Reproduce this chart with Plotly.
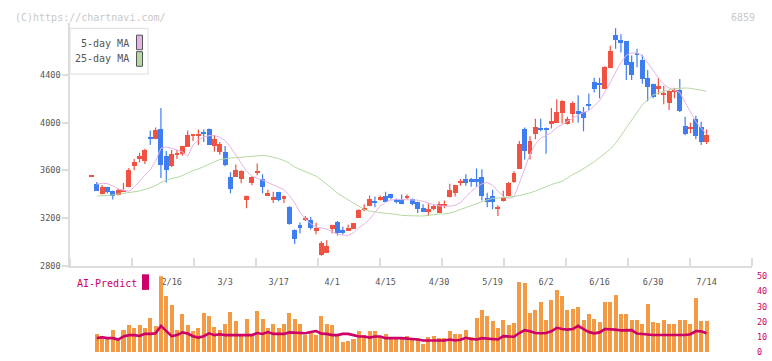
import plotly.graph_objects as go
import numpy as np

# ---------------- data ----------------
date_labels = ["2/16", "3/3", "3/17", "4/1", "4/15", "4/30", "5/19", "6/2", "6/16", "6/30", "7/14"]
date_label_idx = [15, 25, 35, 45, 55, 65, 75, 85, 95, 105, 115]

open_ = [3556, 3491, 3407, 3461, 3429, 3396, 3423, 3464, 3641, 3698,
         3682, 3878, 3869, 3951, 3722, 3641, 3733, 3739, 3799, 3897,
         3888, 3927, 3951, 3804, 3755, 3755, 3551, 3551, 3535, 3358,
         3494, 3586, 3535, 3396, 3358, 3420, 3363, 3298, 3102, 3146,
         3192, 3184, 3097, 2890, 2914, 3110, 3167, 3102, 3094, 3110,
         3200, 3278, 3306, 3347, 3355, 3388, 3404, 3363, 3363, 3371,
         3363, 3339, 3290, 3257, 3282, 3249, 3314, 3380, 3412, 3506,
         3535, 3527, 3527, 3551, 3371, 3388, 3282, 3355, 3388, 3510,
         3616, 3951, 3739, 3910, 3959, 3959, 3992, 4000, 4082, 3992,
         4073, 4098, 4090, 4163, 4343, 4335, 4286, 4465, 4743, 4702,
         4686, 4514, 4588, 4531, 4376, 4327, 4286, 4245, 4171, 4269,
         4278, 3976, 3959, 4033, 3967, 3845]
high = [3556, 3502, 3477, 3461, 3429, 3448, 3494, 3619, 3695, 3747,
        3780, 3935, 3959, 4122, 3763, 3771, 3771, 3804, 3935, 3902,
        3943, 3943, 3951, 3897, 3837, 3804, 3584, 3649, 3600, 3388,
        3551, 3657, 3567, 3437, 3420, 3420, 3388, 3298, 3102, 3162,
        3216, 3208, 3159, 3004, 3012, 3143, 3175, 3127, 3143, 3159,
        3273, 3314, 3388, 3380, 3388, 3420, 3404, 3363, 3396, 3396,
        3363, 3339, 3314, 3322, 3314, 3339, 3347, 3486, 3478, 3527,
        3567, 3535, 3616, 3608, 3412, 3437, 3306, 3429, 3502, 3592,
        3845, 3959, 3886, 4033, 4033, 3959, 4122, 4196, 4188, 4049,
        4180, 4229, 4131, 4245, 4376, 4376, 4473, 4645, 4792, 4743,
        4686, 4563, 4620, 4571, 4441, 4327, 4376, 4310, 4269, 4294,
        4367, 4049, 4000, 4057, 4008, 3943]
low = [3556, 3431, 3396, 3407, 3355, 3388, 3423, 3458, 3600, 3668,
       3652, 3812, 3864, 3535, 3497, 3627, 3695, 3722, 3799, 3845,
       3812, 3837, 3812, 3755, 3731, 3633, 3407, 3551, 3491, 3282,
       3475, 3559, 3407, 3388, 3325, 3341, 3325, 3143, 2982, 3069,
       3175, 3102, 3064, 2882, 2914, 3069, 3053, 3061, 3094, 3110,
       3200, 3257, 3306, 3290, 3347, 3339, 3355, 3322, 3314, 3355,
       3306, 3241, 3257, 3216, 3265, 3249, 3282, 3371, 3380, 3470,
       3470, 3461, 3461, 3347, 3290, 3273, 3216, 3339, 3380, 3494,
       3616, 3690, 3690, 3861, 3927, 3739, 3951, 4000, 3992, 3984,
       4000, 4000, 3927, 4106, 4253, 4204, 4286, 4457, 4620, 4588,
       4359, 4359, 4465, 4327, 4180, 4204, 4237, 4155, 4106, 4204,
       4090, 3894, 3910, 3861, 3812, 3820]
close = [3556, 3431, 3461, 3423, 3388, 3437, 3437, 3608, 3676, 3722,
         3771, 3872, 3940, 3649, 3608, 3739, 3750, 3804, 3902, 3902,
         3913, 3913, 3820, 3869, 3829, 3649, 3445, 3608, 3600, 3388,
         3551, 3592, 3461, 3412, 3380, 3358, 3388, 3151, 3029, 3118,
         3197, 3118, 3118, 2996, 2971, 3143, 3078, 3086, 3118, 3159,
         3273, 3282, 3363, 3331, 3380, 3339, 3371, 3339, 3322, 3388,
         3322, 3282, 3257, 3282, 3306, 3322, 3318, 3437, 3478, 3510,
         3494, 3502, 3502, 3388, 3339, 3339, 3298, 3368, 3494, 3584,
         3829, 3763, 3853, 3967, 3943, 3943, 4016, 4090, 4188, 4033,
         4171, 4082, 4041, 4147, 4286, 4327, 4473, 4604, 4694, 4669,
         4490, 4408, 4580, 4367, 4302, 4220, 4310, 4253, 4269, 4278,
         4106, 3910, 3967, 3894, 3845, 3902]

ma5 = [None, 3483, 3491, 3488, 3469, 3442, 3431, 3423, 3458, 3513,
       3559, 3605, 3676, 3785, 3796, 3785, 3769, 3755, 3717, 3812,
       3856, 3878, 3891, 3891, 3878, 3850, 3796, 3722, 3660, 3595,
       3551, 3532, 3518, 3497, 3478, 3458, 3437, 3388, 3328, 3246,
       3192, 3151, 3124, 3116, 3108, 3083, 3064, 3056, 3053, 3075,
       3118, 3148, 3189, 3246, 3298, 3331, 3350, 3355, 3355, 3355,
       3355, 3350, 3339, 3323, 3312, 3301, 3298, 3298, 3306, 3328,
       3377, 3423, 3458, 3486, 3497, 3475, 3425, 3380, 3363, 3377,
       3491, 3622, 3736, 3818, 3872, 3891, 3918, 3959, 3986, 4014,
       4041, 4063, 4087, 4101, 4139, 4185, 4258, 4335, 4425, 4503,
       4566, 4585, 4585, 4563, 4503, 4435, 4376, 4321, 4291, 4272,
       4253, 4171, 4095, 4008, 3954, 3905]
ma25 = [None, 3385, 3385, 3388, 3393, 3399, 3404, 3410, 3415, 3426,
        3439, 3453, 3472, 3497, 3518, 3532, 3540, 3556, 3578, 3597,
        3611, 3633, 3654, 3671, 3690, 3698, 3703, 3706, 3709, 3712,
        3714, 3720, 3725, 3720, 3712, 3698, 3682, 3660, 3627, 3608,
        3595, 3573, 3551, 3518, 3486, 3448, 3407, 3380, 3358, 3328,
        3301, 3271, 3257, 3249, 3244, 3238, 3235, 3227, 3222, 3219,
        3216, 3216, 3216, 3222, 3230, 3233, 3235, 3241, 3254, 3271,
        3290, 3303, 3320, 3336, 3352, 3363, 3366, 3369, 3372, 3380,
        3388, 3396, 3410, 3426, 3445, 3467, 3480, 3494, 3508, 3535,
        3565, 3586, 3614, 3649, 3671, 3706, 3742, 3777, 3826, 3891,
        3959, 4030, 4095, 4150, 4193, 4231, 4248, 4264, 4275, 4286,
        4291, 4291, 4288, 4280, 4272, 4264]

volume = [None, 11.5, 10.3, 8.3, 14.7, 8.3, 14.7, 17.9, 16.0, 17.9,
          16.0, 22.4, 17.3, 50.0, 36.5, 30.8, 14.7, 25.0, 17.9, 13.5,
          16.0, 25.6, 23.7, 16.7, 14.1, 18.6, 26.3, 20.5, 11.5, 21.8,
          10.3, 26.9, 21.8, 16.0, 18.6, 16.0, 18.6, 25.6, 21.8, 18.6,
          10.9, 13.5, 11.1, 23.7, 18.6, 17.9, 11.5, 6.4, 7.1, 8.3,
          13.5, 11.1, 13.5, 13.5, 10.3, 11.5, 8.3, 8.3, 8.3, 10.3,
          8.3, 9.0, 5.1, 9.6, 10.3, 9.0, 9.0, 13.5, 11.5, 11.5,
          14.1, 9.6, 22.4, 27.6, 23.7, 20.5, 16.0, 21.2, 17.9, 19.2,
          46.2, 45.5, 25.6, 27.6, 32.7, 21.2, 34.0, 41.0, 36.5, 27.6,
          28.2, 29.5, 21.2, 25.0, 21.8, 19.9, 32.7, 32.7, 37.2, 25.0,
          25.0, 21.2, 21.2, 18.6, 31.4, 19.9, 19.2, 21.2, 18.6, 18.6,
          21.2, 21.2, 18.6, 35.3, 20.5, 20.5]
ai_predict = [None, 9.2, 9.8, 9.2, 9.2, 8.3, 10.3, 11.2, 11.2, 10.6,
              12.0, 12.0, 12.4, 17.3, 13.9, 10.5, 11.2, 13.0, 12.2, 10.5,
              9.6, 10.5, 12.4, 11.2, 11.8, 11.2, 11.2, 11.2, 11.2, 11.2,
              11.2, 12.6, 12.0, 13.2, 12.0, 12.0, 12.0, 13.0, 12.8, 12.8,
              12.4, 13.2, 13.9, 12.2, 12.0, 11.2, 11.2, 12.0, 12.0, 11.2,
              10.3, 10.3, 9.6, 10.3, 10.3, 9.2, 9.0, 9.2, 9.2, 9.0,
              8.3, 8.3, 7.7, 7.7, 7.9, 7.7, 7.7, 8.3, 7.7, 8.1,
              9.4, 8.6, 8.3, 9.2, 9.0, 8.3, 8.3, 10.5, 10.5, 10.1,
              12.6, 14.5, 13.7, 12.6, 12.4, 12.6, 13.7, 16.0, 15.2, 14.8,
              15.2, 17.3, 15.2, 13.2, 12.4, 13.0, 15.2, 15.2, 14.8, 14.3,
              14.5, 14.5, 12.2, 11.8, 11.5, 11.3, 11.3, 11.3, 11.3, 11.3,
              11.3, 11.3, 11.8, 13.9, 13.7, 12.4]

price_ticks = [2800, 3200, 3600, 4000, 4400]
ai_ticks = [0, 10, 20, 30, 40, 50]

# ---------------- styling ----------------
W, H = 772, 361
FONT = "DejaVu Sans Mono"
RED = "#f05342"
BLUE = "#3e7ef0"
PINK = "#e6b2e6"
GREEN = "#b3d9a3"
ORANGE = "#f39a45"
MAGENTA = "#cc0066"
AXIS = "#dddddd"
TXT = "#555555"

def px(x):
    return x / W

def py(y):
    return 1 - y / H

n = len(close)
idx = list(range(n))
XR = [-4.0, 123.5]

up = [c >= o for o, c in zip(open_, close)]
MIN_BODY = 14
body_base, body_h = [], []
for o, c in zip(open_, close):
    lo, hi = min(o, c), max(o, c)
    d = hi - lo
    if d < MIN_BODY:
        lo -= (MIN_BODY - d) / 2
        d = MIN_BODY
    body_base.append(lo)
    body_h.append(d)

fig = go.Figure()

# wicks
for flag, col in [(True, RED), (False, BLUE)]:
    wx, wy = [], []
    for i in idx:
        if up[i] == flag:
            wx += [i, i, None]
            wy += [low[i], high[i], None]
    fig.add_trace(go.Scatter(x=wx, y=wy, mode="lines", line=dict(color=col, width=1.2),
                             hoverinfo="skip", showlegend=False, xaxis="x", yaxis="y"))

# bodies
fig.add_trace(go.Bar(x=idx, y=body_h, base=body_base, width=0.92,
                     marker=dict(color=[RED if u else BLUE for u in up], line=dict(width=0)),
                     showlegend=False, xaxis="x", yaxis="y"))

# moving averages
fig.add_trace(go.Scatter(x=idx, y=ma5, mode="lines", line=dict(color=PINK, width=1),
                         showlegend=False, xaxis="x", yaxis="y"))
fig.add_trace(go.Scatter(x=idx, y=ma25, mode="lines", line=dict(color=GREEN, width=1),
                         showlegend=False, xaxis="x", yaxis="y"))

# lower panel
fig.add_trace(go.Bar(x=idx, y=volume, width=0.75, marker=dict(color=ORANGE, line=dict(width=0)),
                     showlegend=False, xaxis="x2", yaxis="y2"))
fig.add_trace(go.Scatter(x=idx, y=ai_predict, mode="lines", line=dict(color=MAGENTA, width=2.6),
                         showlegend=False, xaxis="x2", yaxis="y2"))

xdom = [px(70), px(752)]
fig.update_layout(
    width=W, height=H, autosize=False,
    margin=dict(l=0, r=0, t=0, b=0),
    paper_bgcolor="white", plot_bgcolor="white",
    font=dict(family=FONT, color=TXT, size=9),
    barmode="overlay", bargap=0,
    xaxis=dict(domain=xdom, range=XR, anchor="y",
               showline=True, linecolor=AXIS, linewidth=2,
               showgrid=False, zeroline=False,
               tickmode="array", tickvals=date_label_idx, ticktext=date_labels,
               ticks="", ticklabelstandoff=7,
               tickfont=dict(family=FONT, size=8.5, color=TXT),
               minor=dict(tickmode="array",
                          tickvals=list(np.linspace(XR[0], XR[1], 12)),
                          ticks="inside", ticklen=8, tickcolor=AXIS, tickwidth=2,
                          showgrid=False)),
    yaxis=dict(domain=[py(268), py(18)], range=[2800, 4400 + 54 * 400 / 49], anchor="x",
               showline=True, linecolor=AXIS, linewidth=1.5,
               showgrid=False, zeroline=False,
               tickmode="array", tickvals=price_ticks,
               ticks="outside", ticklen=6, tickcolor=AXIS, tickwidth=1.5,
               tickfont=dict(family=FONT, size=8.5, color=TXT)),
    xaxis2=dict(domain=xdom, range=XR, anchor="y2", visible=False),
    yaxis2=dict(domain=[py(357), py(279)], range=[0, 50], anchor="x2", side="right",
                showline=False, showgrid=False, zeroline=False,
                tickmode="array", tickvals=ai_ticks, ticks="",
                ticklabelstandoff=4,
                tickfont=dict(family=FONT, size=8.5, color=MAGENTA)),
)

shapes = []
annotations = []

# legend box
shapes.append(dict(type="rect", xref="paper", yref="paper",
                   x0=px(70), x1=px(148), y0=py(71), y1=py(24),
                   line=dict(color=AXIS, width=1), fillcolor="white", layer="above"))
for (y0, y1, col, label, ty) in [(31, 46, PINK, "5-day MA", 39.5), (48, 63, GREEN, "25-day MA", 55.5)]:
    shapes.append(dict(type="rect", xref="paper", yref="paper",
                       x0=px(136.5), x1=px(142.5), y0=py(y1), y1=py(y0),
                       line=dict(color="#555555", width=1), fillcolor=col, layer="above"))
    annotations.append(dict(text=label, xref="paper", yref="paper", x=px(131), y=py(ty),
                            xanchor="right", yanchor="middle", showarrow=False,
                            font=dict(family=FONT, size=10, color=TXT)))

# AI-Predict label
annotations.append(dict(text="AI-Predict", xref="paper", yref="paper", x=px(75), y=py(286),
                        xanchor="left", yanchor="middle", showarrow=False,
                        font=dict(family=FONT, size=10, color=MAGENTA)))
shapes.append(dict(type="rect", xref="paper", yref="paper",
                   x0=px(142), x1=px(149), y0=py(293), y1=py(277),
                   line=dict(width=0), fillcolor=MAGENTA, layer="above"))

# watermark + code
annotations.append(dict(text="(C)https://chartnavi.com/", xref="paper", yref="paper",
                        x=px(13), y=py(12.5), xanchor="left", yanchor="middle", showarrow=False,
                        font=dict(family=FONT, size=10, color="#c8c8c8")))
annotations.append(dict(text="6859", xref="paper", yref="paper",
                        x=px(757), y=py(12.5), xanchor="right", yanchor="middle", showarrow=False,
                        font=dict(family=FONT, size=10, color="#c8c8c8")))

fig.update_layout(shapes=shapes, annotations=annotations)
fig.write_html("out.html")
